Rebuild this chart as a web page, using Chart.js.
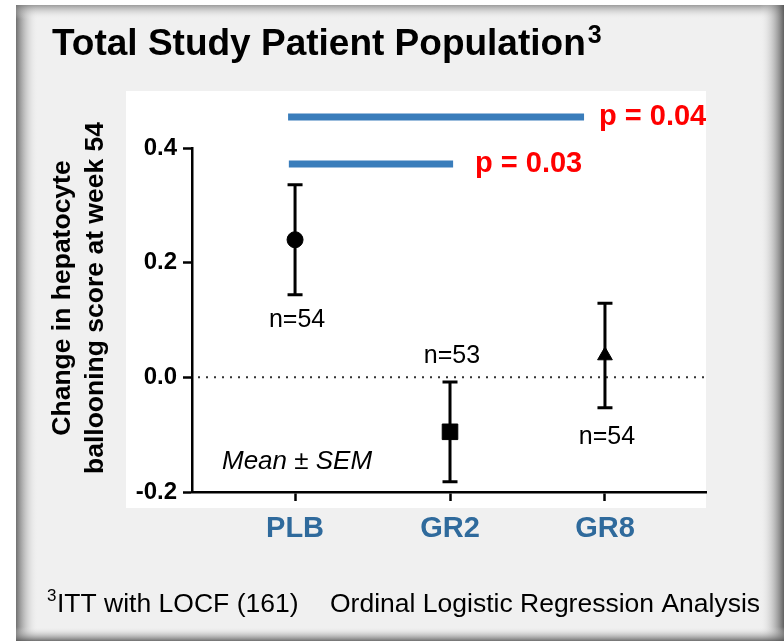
<!DOCTYPE html>
<html>
<head>
<meta charset="utf-8">
<script src="https://cdn.jsdelivr.net/npm/chart.js@4"></script>
<style>
  html, body { margin: 0; padding: 0; background: #ffffff; }
  #c { display: block; }
</style>
</head>
<body>
<canvas id="c" width="784" height="641"></canvas>
<script>
// ---- data ----
const categories = ['PLB', 'GR2', 'GR8'];
const means = [0.24, -0.095, 0.038];
const sems = [0.096, 0.087, 0.091];
const nLabels = ['n=54', 'n=53', 'n=54'];
const yTicks = [-0.2, 0.0, 0.2, 0.4];
const pValues = ['p = 0.04', 'p = 0.03'];
const titleText = 'Total Study Patient Population';
const yTitleLines = ['Change in hepatocyte', 'ballooning score at week 54'];
const footLeft = 'ITT with LOCF (161)';
const footRight = 'Ordinal Logistic Regression Analysis';
const statNote = 'Mean \u00b1 SEM';

// ---- styling / layout ----
const FONT = '"Liberation Sans", Arial, Helvetica, sans-serif';
const BLUE_LABEL = '#2f6a9c';
const BAR_BLUE = '#3a7dbb';
const RED = '#ff0000';
const markerStyles = ['circle', 'rect', 'triangle'];
const markerRadii = [8, 11, 8.5];
const nLabelOffsets = [25, -26, 29];       // px from error cap (below for +, above for -)
const comparisons = [                       // p-value brackets: from/to in category units, level in y units
  { from: -0.045, to: 1.865, level: 0.454, textX: 599 },
  { from: -0.04,  to: 1.02,  level: 0.372, textX: 475 }
];

const framePlugin = {
  id: 'frame',
  beforeDraw(chart) {
    const ctx = chart.ctx;
    const W = chart.width, H = chart.height;
    ctx.save();
    ctx.fillStyle = '#ffffff';
    ctx.fillRect(0, 0, W, H);
    const fx = 16, fy = 5;
    ctx.fillStyle = '#f0f0f0';
    ctx.fillRect(fx, fy, W - fx, H - fy);
    let g;
    g = ctx.createLinearGradient(fx, 0, fx + 22, 0);
    g.addColorStop(0, 'rgba(90,90,90,0.85)');
    g.addColorStop(1, 'rgba(240,240,240,0)');
    ctx.fillStyle = g; ctx.fillRect(fx, fy, 22, H - fy);
    g = ctx.createLinearGradient(0, fy, 0, fy + 14);
    g.addColorStop(0, 'rgba(120,120,120,0.7)');
    g.addColorStop(1, 'rgba(240,240,240,0)');
    ctx.fillStyle = g; ctx.fillRect(fx, fy, W - fx, 14);
    g = ctx.createLinearGradient(W - 24, 0, W, 0);
    g.addColorStop(0, 'rgba(240,240,240,0)');
    g.addColorStop(1, 'rgba(80,80,80,0.9)');
    ctx.fillStyle = g; ctx.fillRect(W - 24, fy, 24, H - fy);
    g = ctx.createLinearGradient(0, H - 14, 0, H);
    g.addColorStop(0, 'rgba(240,240,240,0)');
    g.addColorStop(1, 'rgba(90,90,90,0.85)');
    ctx.fillStyle = g; ctx.fillRect(fx, H - 14, W - fx, 14);
    ctx.fillStyle = '#ffffff';
    ctx.fillRect(126, 91, 580, 417);
    ctx.restore();
  },
  beforeDatasetsDraw(chart) {
    const ctx = chart.ctx;
    const xs = chart.scales.x, ys = chart.scales.y;
    const area = chart.chartArea;
    ctx.save();
    ctx.strokeStyle = '#333333';
    ctx.lineWidth = 2;
    ctx.setLineDash([2, 6]);
    const y0 = ys.getPixelForValue(0);
    ctx.beginPath();
    ctx.moveTo(area.left + 6, y0);
    ctx.lineTo(area.right, y0);
    ctx.stroke();
    ctx.setLineDash([]);
    ctx.strokeStyle = '#000';
    ctx.lineWidth = 3;
    means.forEach((m, i) => {
      const px = xs.getPixelForValue(i);
      const yt = ys.getPixelForValue(m + sems[i]);
      const yb = ys.getPixelForValue(m - sems[i]);
      ctx.beginPath();
      ctx.moveTo(px, yt); ctx.lineTo(px, yb);
      ctx.moveTo(px - 7.5, yt); ctx.lineTo(px + 7.5, yt);
      ctx.moveTo(px - 7.5, yb); ctx.lineTo(px + 7.5, yb);
      ctx.stroke();
    });
    ctx.restore();
  },
  afterDraw(chart) {
    const ctx = chart.ctx;
    const xs = chart.scales.x, ys = chart.scales.y;
    ctx.save();
    ctx.fillStyle = '#000';
    ctx.textBaseline = 'alphabetic';
    ctx.textAlign = 'left';
    ctx.font = 'bold 37px ' + FONT;
    ctx.fillText(titleText, 52, 55);
    const tw = ctx.measureText(titleText).width;
    ctx.font = 'bold 25px ' + FONT;
    ctx.fillText('3', 52 + tw + 2, 43);
    ctx.font = '17px ' + FONT;
    ctx.fillText('3', 47, 601);
    ctx.font = '26.5px ' + FONT;
    ctx.fillText(footLeft, 57, 612);
    ctx.fillText(footRight, 330, 612);
    ctx.font = 'bold 26.5px ' + FONT;
    ctx.textAlign = 'center';
    ctx.textBaseline = 'middle';
    [63, 96].forEach((x, k) => {
      ctx.save();
      ctx.translate(x, 298);
      ctx.rotate(-Math.PI / 2);
      ctx.fillText(yTitleLines[k], 0, 0);
      ctx.restore();
    });
    ctx.font = '25px ' + FONT;
    means.forEach((m, i) => {
      const px = xs.getPixelForValue(i);
      const off = nLabelOffsets[i];
      const capY = off > 0 ? ys.getPixelForValue(m - sems[i]) : ys.getPixelForValue(m + sems[i]);
      ctx.fillText(nLabels[i], px + 2, capY + off);
    });
    ctx.font = 'italic 26px ' + FONT;
    ctx.fillText(statNote, xs.getPixelForValue(0) + 2, ys.getPixelForValue(-0.148));
    ctx.font = 'bold 29px ' + FONT;
    ctx.fillStyle = RED;
    ctx.textAlign = 'left';
    comparisons.forEach((c, k) => {
      ctx.fillText(pValues[k], c.textX, ys.getPixelForValue(c.level));
    });
    ctx.restore();
  }
};

const datasets = [
  {
    type: 'scatter',
    data: means.map((m, i) => ({ x: i, y: m })),
    pointStyle: markerStyles,
    pointRadius: markerRadii,
    backgroundColor: '#000',
    borderColor: '#000',
    borderWidth: 1,
    order: 0
  }
].concat(comparisons.map(c => ({
  type: 'line',
  data: [{ x: c.from, y: c.level }, { x: c.to, y: c.level }],
  borderColor: BAR_BLUE,
  borderWidth: 7,
  borderCapStyle: 'butt',
  pointRadius: 0,
  clip: false,
  order: 1
})));

new Chart(document.getElementById('c'), {
  type: 'scatter',
  data: { datasets },
  plugins: [framePlugin],
  options: {
    responsive: false,
    animation: false,
    devicePixelRatio: 1,
    layout: { padding: { top: 148, right: 78, left: 0, bottom: 0 } },
    plugins: { legend: { display: false }, tooltip: { enabled: false } },
    scales: {
      x: {
        type: 'linear',
        min: -0.665,
        max: 2.652,
        afterBuildTicks: s => { s.ticks = categories.map((c, i) => ({ value: i })); },
        afterFit: s => { s.height = 149; },
        ticks: {
          autoSkip: false,
          maxRotation: 0,
          padding: 11,
          color: BLUE_LABEL,
          font: { family: FONT, size: 29, weight: 'bold' },
          callback: v => categories[v]
        },
        grid: { display: true, drawOnChartArea: false, drawTicks: true, tickLength: 9, tickWidth: 2.5, tickColor: '#000' },
        border: { display: true, color: '#000', width: 2.5 }
      },
      y: {
        type: 'linear',
        min: -0.2,
        max: 0.4,
        afterBuildTicks: s => { s.ticks = yTicks.map(v => ({ value: v })); },
        afterFit: s => { s.width = 192; },
        ticks: {
          padding: 6,
          color: '#000',
          font: { family: FONT, size: 24, weight: 'bold' },
          callback: v => Number(v).toFixed(1)
        },
        grid: { display: true, drawOnChartArea: false, drawTicks: true, tickLength: 9, tickWidth: 2.5, tickColor: '#000' },
        border: { display: true, color: '#000', width: 2.5 }
      }
    }
  }
});
</script>
</body>
</html>
